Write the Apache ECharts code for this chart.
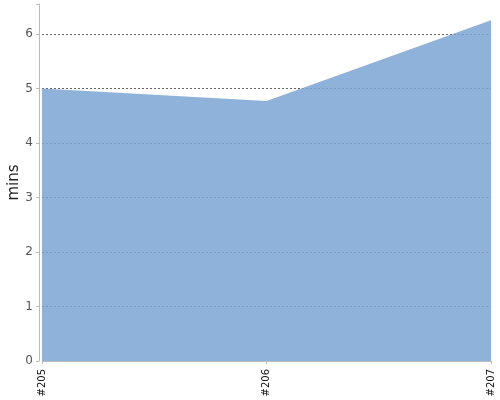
<!DOCTYPE html>
<html>
<head>
<meta charset="utf-8">
<script src="https://cdn.jsdelivr.net/npm/echarts@6/dist/echarts.min.js"></script>
<style>html,body{margin:0;padding:0;background:#fff}#c{width:500px;height:400px}</style>
</head>
<body>
<div id="c"></div>
<script>
var categories = ['#205', '#206', '#207'];
var values = [5.0, 4.77, 6.25];
var yTicks = [0, 1, 2, 3, 4, 5, 6];

var chart = echarts.init(document.getElementById('c'), null, {renderer: 'canvas'});
chart.setOption({
  animation: false,
  grid: {left: 42, right: 9, top: 4, bottom: 39, containLabel: false, outerBoundsMode: 'none'},
  xAxis: {
    type: 'category',
    data: categories,
    boundaryGap: false,
    offset: 2,
    axisLine: {lineStyle: {color: '#bbb', width: 1}},
    axisTick: {show: true, length: 3, lineStyle: {color: '#bbb'}},
    axisLabel: {rotate: 90, fontSize: 10, color: '#111', margin: 6, fontFamily: 'DejaVu Sans'},
    splitLine: {show: false}
  },
  yAxis: {
    type: 'value',
    min: 0,
    max: 6.55,
    interval: 1,
    offset: 3,
    name: 'mins',
    nameLocation: 'middle',
    nameGap: 17,
    nameMoveOverlap: false,
    nameTextStyle: {fontSize: 15, color: '#222', fontFamily: 'DejaVu Sans'},
    axisLine: {show: true, lineStyle: {color: '#bbb', width: 1}},
    axisTick: {show: true, length: 3, lineStyle: {color: '#bbb'}},
    axisLabel: {
      fontSize: 12, color: '#555', margin: 6, fontFamily: 'DejaVu Sans',
      formatter: function (v) { return yTicks.indexOf(v) >= 0 ? String(v) : ''; }
    },
    splitLine: {show: true, showMaxLine: false, showMinLine: false, lineStyle: {color: '#666', type: [2, 2], width: 1}}
  },
  series: [{
    type: 'line',
    data: values,
    symbol: 'none',
    lineStyle: {width: 0},
    areaStyle: {color: '#7ba4d3', opacity: 0.85},
    z: 2
  }]
});
</script>
</body>
</html>
